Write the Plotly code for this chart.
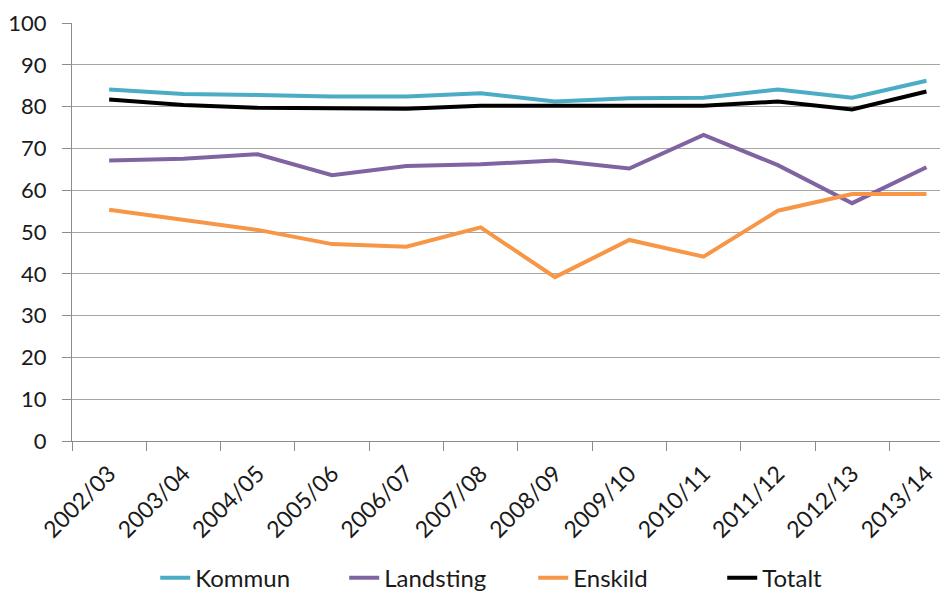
import plotly.graph_objects as go

years = ["2002/03", "2003/04", "2004/05", "2005/06", "2006/07", "2007/08",
         "2008/09", "2009/10", "2010/11", "2011/12", "2012/13", "2013/14"]

kommun = [84.1, 83.0, 82.8, 82.4, 82.4, 83.2, 81.2, 82.0, 82.1, 84.1, 82.1, 86.2]
landsting = [67.1, 67.5, 68.6, 63.6, 65.8, 66.2, 67.1, 65.2, 73.2, 66.0, 56.9, 65.5]
enskild = [55.3, 53.0, 50.5, 47.1, 46.5, 51.1, 39.2, 48.1, 44.1, 55.1, 59.1, 59.1]
totalt = [81.7, 80.4, 79.7, 79.5, 79.5, 80.2, 80.2, 80.2, 80.2, 81.2, 79.3, 83.6]

series = [
    ("Kommun", kommun, "#4BACC6"),
    ("Landsting", landsting, "#8064A2"),
    ("Enskild", enskild, "#F79646"),
    ("Totalt", totalt, "#000000"),
]

fig = go.Figure()
for name, vals, color in series:
    fig.add_trace(go.Scatter(
        x=years, y=vals, mode='lines', name=name,
        line=dict(color=color, width=4)
    ))

font_family = "Lato, Liberation Sans, Arial"

# page body has an 8px margin, so the figure is a bit smaller than the window
fig.update_layout(
    width=940, height=593,
    paper_bgcolor='white',
    plot_bgcolor='white',
    margin=dict(l=64, r=0, t=15, b=160),
    font=dict(family=font_family, size=21, color='#1a1a1a'),
    xaxis=dict(
        type='category',
        range=[-0.5, 11.29],
        automargin=False,
        tickson='boundaries',
        ticks='outside', ticklen=9, tickcolor='#8C8C8C',
        showline=True, linecolor='#8C8C8C', linewidth=1,
        showgrid=False, zeroline=False,
        tickangle=-45,
        ticklabelstandoff=9,
        tickfont=dict(size=23),
    ),
    yaxis=dict(
        range=[0, 100], dtick=10,
        automargin=False,
        ticks='outside', ticklen=9, tickcolor='#8C8C8C',
        showline=True, linecolor='#8C8C8C', linewidth=1,
        showgrid=True, gridcolor='#A6A6A6', gridwidth=1,
        zeroline=False,
        ticklabelstandoff=11,
        tickfont=dict(size=22),
    ),
    legend=dict(
        orientation='h',
        x=0.095, xanchor='left',
        y=-0.382, yanchor='bottom',
        font=dict(size=24),
        entrywidth=144, entrywidthmode='pixels',
        traceorder='normal',
    ),
)

fig.write_html("out.html")
